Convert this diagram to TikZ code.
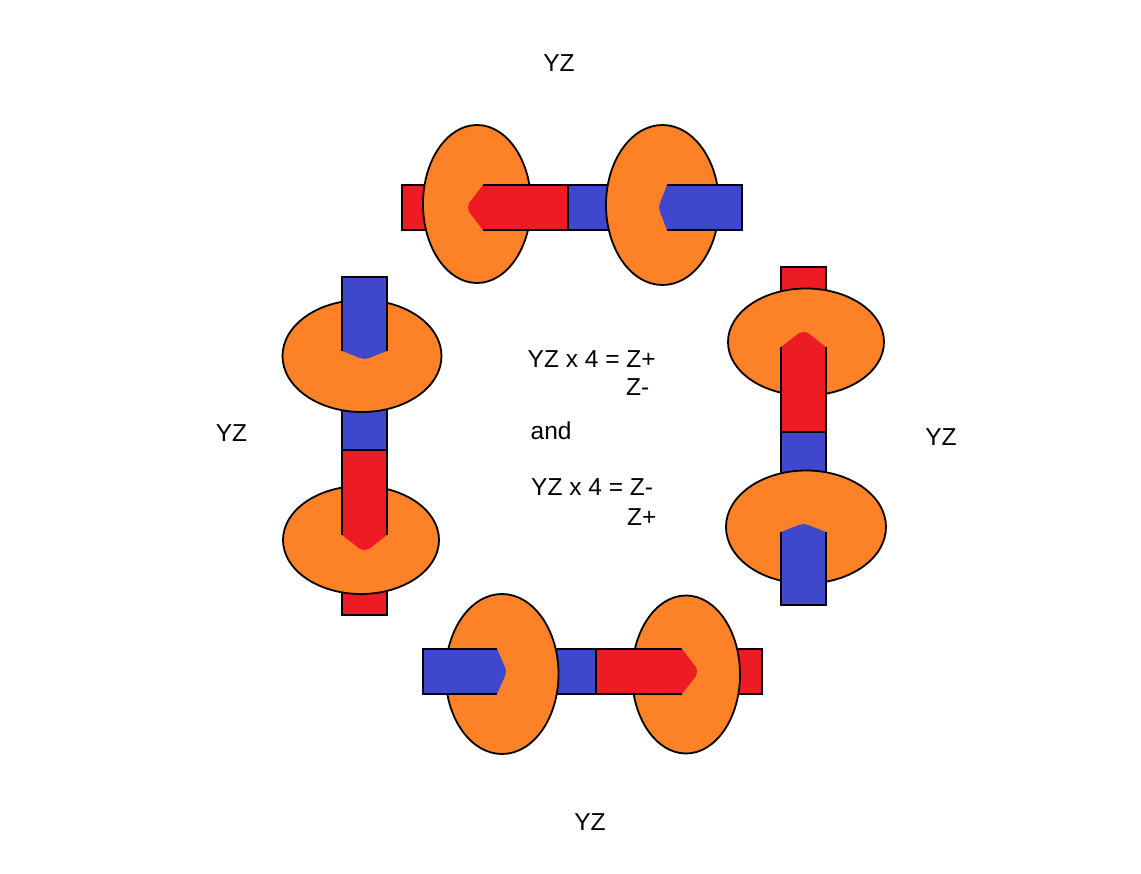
\documentclass[tikz,border=0pt]{standalone}
\usepackage{fontspec}
\setmainfont{Liberation Sans}
\definecolor{orng}{HTML}{FD8227}
\definecolor{rd}{HTML}{ED1C24}
\definecolor{blu}{HTML}{3F48CC}
\tikzset{
  bar/.style={draw=black, line width=1.8pt},
  disc/.style={fill=orng, draw=black, line width=1.8pt},
  lbl/.style={font=\fontsize{24.5}{29}\selectfont, inner sep=0pt}
}
\begin{document}
\begin{tikzpicture}[x=1pt, y=-1pt]
\fill[white] (0,0) rectangle (1141,874);
\useasboundingbox (0,0) rectangle (1141,874);

% ---- top assembly ----
\filldraw[bar, fill=rd] (402,185) rectangle (568,230);
\filldraw[bar, fill=blu] (568,185) rectangle (742,230);
\draw[disc] (477,204) ellipse [x radius=54pt, y radius=79pt];
\draw[disc] (662.5,205) ellipse [x radius=56.5pt, y radius=80pt];
\fill[rd] (483,185) -- (568,185) -- (568,230) -- (483,230) -- (469,212) -- (468,207.5) -- (469,203) -- cycle;
\draw[bar] (483,185) -- (568,185) -- (568,230) -- (483,230);
\fill[blu] (667,185) -- (742,185) -- (742,230) -- (667,230) -- (660,212) -- (659,207.5) -- (660,203) -- cycle;
\draw[bar] (667,185) -- (742,185) -- (742,230) -- (667,230);

% ---- left assembly ----
\filldraw[bar, fill=blu] (342,277) rectangle (387,450);
\filldraw[bar, fill=rd] (342,450) rectangle (387,615);
\draw[disc] (362,356) ellipse [x radius=79.5pt, y radius=56pt];
\draw[disc] (361,540) ellipse [x radius=78pt, y radius=54pt];
\fill[blu] (342,277) -- (387,277) -- (387,351) -- (369,358) -- (364.5,359) -- (360,358) -- (342,351) -- cycle;
\draw[bar] (342,351) -- (342,277) -- (387,277) -- (387,351);
\fill[rd] (342,450) -- (387,450) -- (387,535) -- (369,549) -- (364.5,550) -- (360,549) -- (342,535) -- cycle;
\draw[bar] (342,535) -- (342,450) -- (387,450) -- (387,535);

% ---- right assembly ----
\filldraw[bar, fill=rd] (781,267) rectangle (826,432);
\filldraw[bar, fill=blu] (781,432) rectangle (826,605);
\draw[disc] (806,342) ellipse [x radius=78pt, y radius=53.5pt];
\draw[disc] (806,527) ellipse [x radius=80pt, y radius=56.5pt];
\fill[rd] (781,432) -- (826,432) -- (826,347) -- (808,333) -- (803.5,332) -- (799,333) -- (781,347) -- cycle;
\draw[bar] (781,347) -- (781,432) -- (826,432) -- (826,347);
\fill[blu] (781,605) -- (826,605) -- (826,532) -- (808,525) -- (803.5,524) -- (799,525) -- (781,532) -- cycle;
\draw[bar] (781,532) -- (781,605) -- (826,605) -- (826,532);

% ---- bottom assembly ----
\filldraw[bar, fill=blu] (423,649) rectangle (596,694);
\filldraw[bar, fill=rd] (596,649) rectangle (762,694);
\draw[disc] (502,674) ellipse [x radius=56.5pt, y radius=80pt];
\draw[disc] (686,674.5) ellipse [x radius=54pt, y radius=79pt];
\fill[blu] (423,649) -- (497,649) -- (505,667) -- (506,671.5) -- (505,676) -- (497,694) -- (423,694) -- cycle;
\draw[bar] (497,649) -- (423,649) -- (423,694) -- (497,694);
\fill[rd] (596,649) -- (682,649) -- (696,667) -- (697,671.5) -- (696,676) -- (682,694) -- (596,694) -- cycle;
\draw[bar] (682,649) -- (596,649) -- (596,694) -- (682,694);

% ---- labels ----
\node[lbl, anchor=base] (yzT) at (559,72) {YZ};
\node[lbl, anchor=base] (yzL) at (231.5,442) {YZ};
\node[lbl, anchor=base] (yzR) at (941,445.5) {YZ};
\node[lbl, anchor=base] (yzB) at (590,830) {YZ};
\node[lbl, anchor=base west] (eqA) at (527.5,368) {YZ x 4 = Z+};
\node[lbl, anchor=base west] (eqAb) at (626,395.5) {Z-};
\node[lbl, anchor=base west] (andtxt) at (530.5,439) {and};
\node[lbl, anchor=base west] (eqB) at (531,496) {YZ x 4 = Z-};
\node[lbl, anchor=base west] (eqBb) at (627,525) {Z+};
\end{tikzpicture}
\end{document}
